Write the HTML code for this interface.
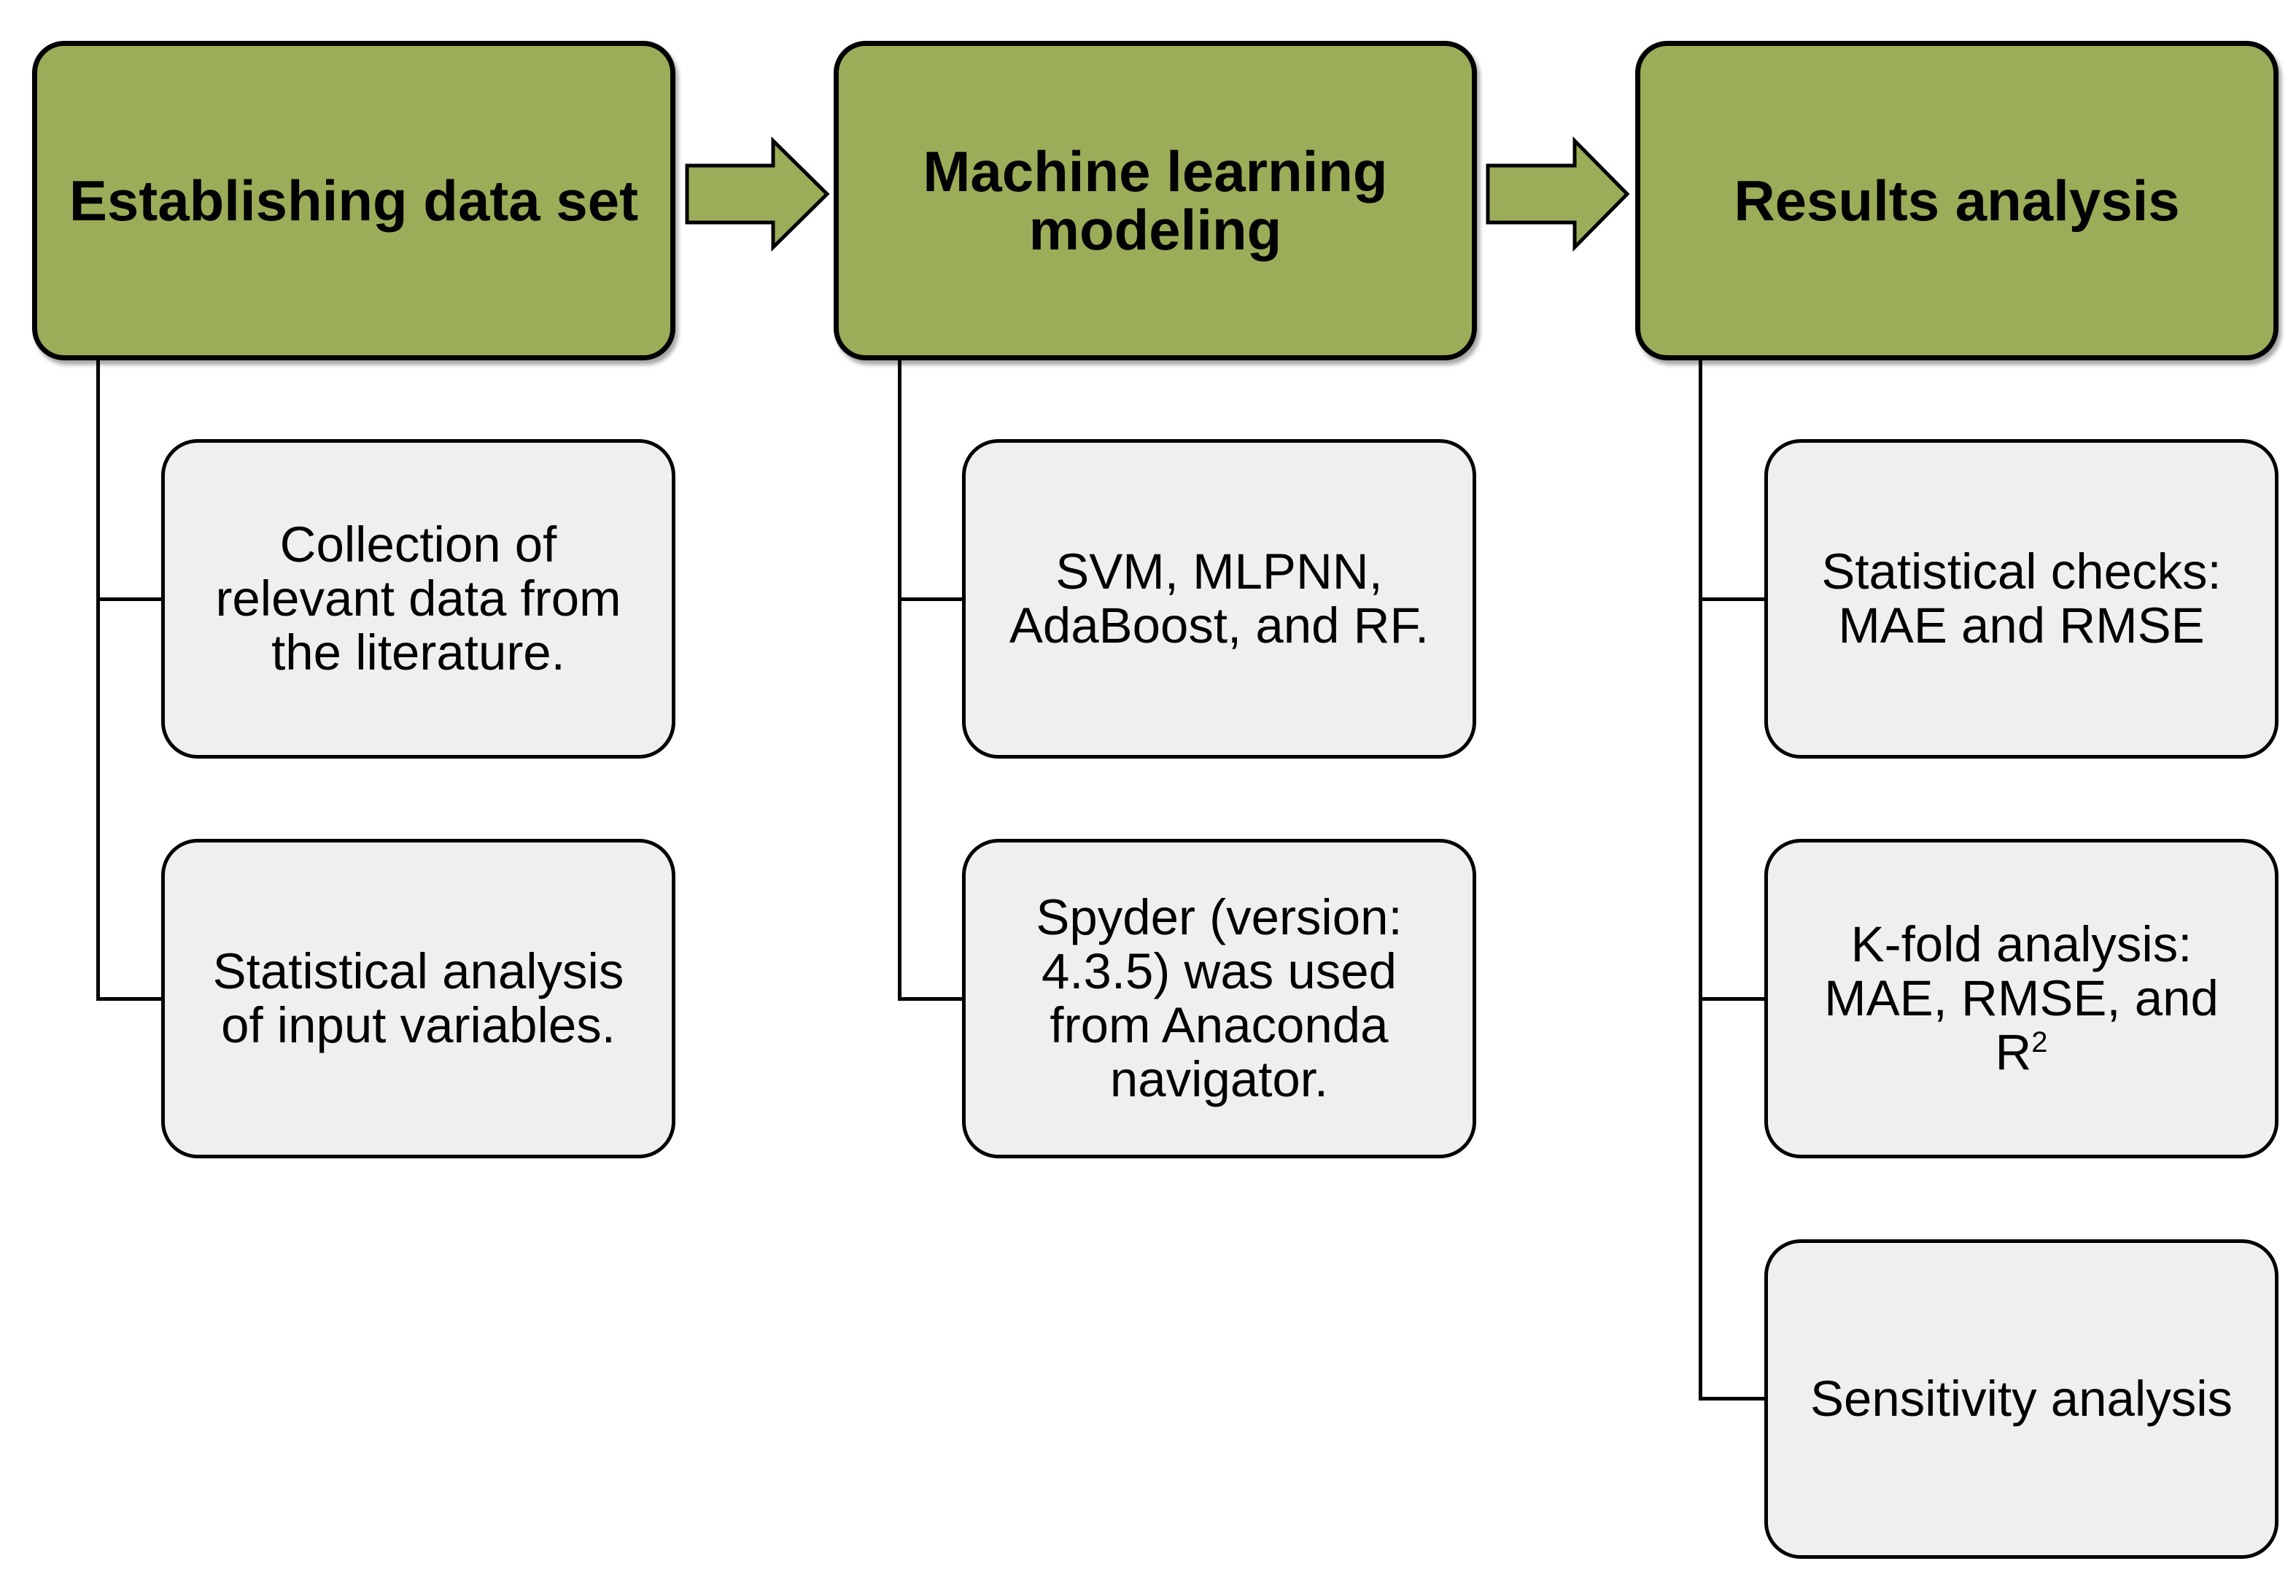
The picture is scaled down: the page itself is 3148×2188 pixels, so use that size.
<!DOCTYPE html>
<html><head><style>
body{margin:0;width:3148px;height:2188px;background:#fff;position:relative;overflow:hidden;font-family:"Liberation Sans",Arial,sans-serif}
.g{position:absolute;top:56px;height:438px;width:882px;box-sizing:border-box;background:#9bad58;border:7px solid #000;border-radius:44px;display:flex;align-items:center;justify-content:center;text-align:center;font-weight:bold;font-size:78px;line-height:80px;color:#000;box-shadow:4px 6px 6px rgba(0,0,0,.35)}
.s{position:absolute;height:438px;width:705px;box-sizing:border-box;background:#efefef;border:5px solid #000;border-radius:50px;display:flex;align-items:center;justify-content:center;text-align:center;font-size:69px;line-height:74px;color:#000}
.l{position:absolute;background:#000}
</style></head><body>
<div class="g" style="left:44px"><div>Establishing data set</div></div>
<div class="g" style="left:1143px"><div>Machine learning<br>modeling</div></div>
<div class="g" style="left:2242px"><div>Results analysis</div></div>
<svg width="3148" height="2188" style="position:absolute;left:0;top:0">
<polygon points="942,227 1060,227 1060,193 1134,266 1060,339 1060,305 942,305" fill="#9bad58" stroke="#000" stroke-width="5"/>
<polygon points="2040,227 2159,227 2159,193 2231,266 2159,339 2159,305 2040,305" fill="#9bad58" stroke="#000" stroke-width="5"/>
</svg>
<div class="l" style="left:132px;top:494px;width:5px;height:877px"></div>
<div class="l" style="left:132px;top:819px;width:90px;height:5px"></div>
<div class="l" style="left:132px;top:1367px;width:90px;height:5px"></div>
<div class="l" style="left:1231px;top:494px;width:5px;height:877px"></div>
<div class="l" style="left:1231px;top:819px;width:90px;height:5px"></div>
<div class="l" style="left:1231px;top:1367px;width:90px;height:5px"></div>
<div class="l" style="left:2329px;top:494px;width:5px;height:1426px"></div>
<div class="l" style="left:2329px;top:819px;width:92px;height:5px"></div>
<div class="l" style="left:2329px;top:1367px;width:92px;height:5px"></div>
<div class="l" style="left:2329px;top:1915px;width:92px;height:5px"></div>
<div class="s" style="left:221px;top:602px"><div>Collection of<br>relevant data from<br>the literature.</div></div>
<div class="s" style="left:221px;top:1150px"><div>Statistical analysis<br>of input variables.</div></div>
<div class="s" style="left:1319px;top:602px"><div>SVM, MLPNN,<br>AdaBoost, and RF.</div></div>
<div class="s" style="left:1319px;top:1150px"><div>Spyder (version:<br>4.3.5) was used<br>from Anaconda<br>navigator.</div></div>
<div class="s" style="left:2419px;top:602px"><div>Statistical checks:<br>MAE and RMSE</div></div>
<div class="s" style="left:2419px;top:1150px"><div>K-fold analysis:<br>MAE, RMSE, and<br>R<sup style="font-size:40px;line-height:0">2</sup></div></div>
<div class="s" style="left:2419px;top:1699px"><div>Sensitivity analysis</div></div>
</body></html>
